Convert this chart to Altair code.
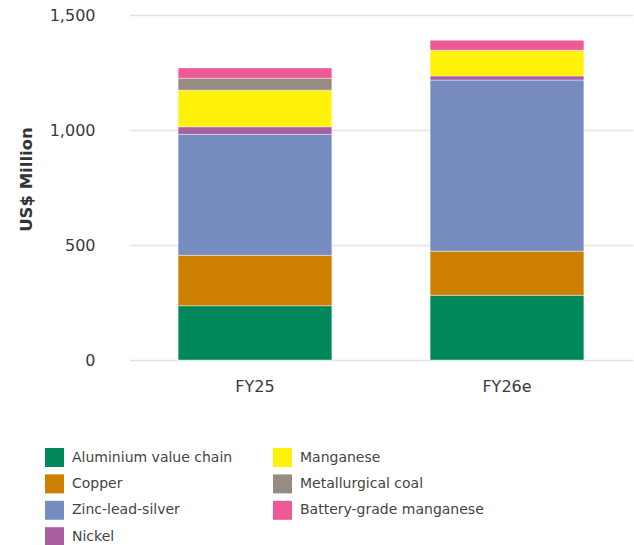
import altair as alt
import pandas as pd

years = ["FY25", "FY26e"]
segments = ["Aluminium value chain", "Copper", "Zinc-lead-silver", "Nickel",
            "Manganese", "Metallurgical coal", "Battery-grade manganese"]
colors = ["#00875a", "#cd7f00", "#768cc0", "#a85fa0", "#fff10a", "#978c82", "#ef5a96"]
fy25 = [236, 219, 526, 33, 159, 52, 45]
fy26 = [281, 192, 744, 18, 112, 0, 43]

rows = []
for i, s in enumerate(segments):
    rows.append({"year": "FY25", "segment": s, "value": fy25[i], "order": i})
    rows.append({"year": "FY26e", "segment": s, "value": fy26[i], "order": i})
df = pd.DataFrame(rows)

FONT = "DejaVu Sans"

chart = alt.Chart(df).mark_bar(stroke="white", strokeWidth=0.4).encode(
    x=alt.X("year:N", sort=years,
            scale=alt.Scale(paddingInner=0.39, paddingOuter=0.195),
            axis=alt.Axis(title=None, labelAngle=0, domain=False, ticks=False,
                          labelPadding=18, labelFontSize=16, labelColor="#3a3a3a",
                          labelFont=FONT)),
    y=alt.Y("value:Q", stack="zero",
            scale=alt.Scale(domain=[0, 1500]),
            axis=alt.Axis(title="US$ Million", values=[0, 500, 1000, 1500], format=",.0f",
                          domain=False, ticks=False, tickSize=0, labelPadding=34,
                          labelFontSize=16, labelColor="#3a3a3a", labelFont=FONT,
                          gridColor="#e3e3e3", gridWidth=1.5,
                          titleFont=FONT, titleFontSize=16.5, titleFontWeight="bold",
                          titleColor="#333333", titleX=-103, titleY=164,
                          titleAngle=-90, titleAlign="center", titleBaseline="middle")),
    color=alt.Color("segment:N",
                    scale=alt.Scale(domain=segments, range=colors),
                    legend=alt.Legend(title=None, orient="none", legendX=-84, legendY=433,
                                      columns=2, columnPadding=40, rowPadding=7.4,
                                      symbolType="square", symbolSize=361,
                                      symbolStrokeWidth=0, labelFontSize=14,
                                      labelColor="#444444", labelFont=FONT,
                                      labelOffset=8, labelLimit=400)),
    order=alt.Order("order:Q", sort="ascending"),
).properties(
    width=504, height=345,
    autosize=alt.AutoSizeParams(type="none"),
    padding={"left": 129, "top": 15, "right": 1, "bottom": 185},
).configure_view(stroke=None)

chart.save("out.html", embed_options={"renderer": "svg", "actions": False})
